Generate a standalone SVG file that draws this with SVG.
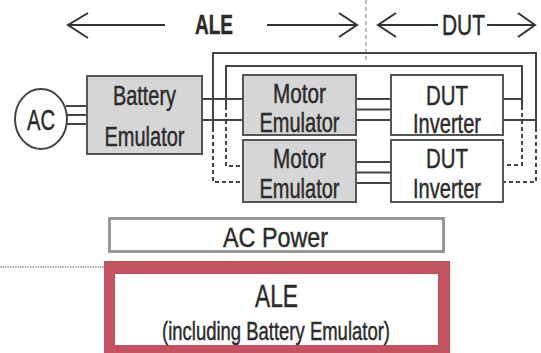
<svg xmlns="http://www.w3.org/2000/svg" width="541" height="353" viewBox="0 0 541 353">
<style>
  .t { font-family: "Liberation Sans", Arial, sans-serif; fill: #2b2b2b; stroke: #2b2b2b; stroke-width: 0.45; text-anchor: middle; }
  .box { fill: #d6d6d6; stroke: #555; stroke-width: 2; }
  .wbox { fill: #ffffff; stroke: #555; stroke-width: 2; }
  .ln { fill: none; stroke: #444; stroke-width: 2; }
  .dl { fill: none; stroke: #444; stroke-width: 2; stroke-dasharray: 4 3; }
  .ar { fill: none; stroke: #333; stroke-width: 2; }
</style>
<rect width="541" height="353" fill="#ffffff"/>

<g id="header">
  <line class="ar" x1="68" y1="25" x2="165" y2="25"/>
  <polyline class="ar" points="88,13 68,25 88,38"/>
  <text class="t" x="214" y="34" font-size="27" font-weight="bold" textLength="38" lengthAdjust="spacingAndGlyphs">ALE</text>
  <line class="ar" x1="267" y1="25" x2="357" y2="25"/>
  <polyline class="ar" points="339,13 357,25 339,37"/>
  <line x1="366" y1="0" x2="366" y2="63" stroke="#aaa" stroke-width="1.5" stroke-dasharray="4 3"/>
  <line class="ar" x1="378" y1="25" x2="438" y2="25"/>
  <polyline class="ar" points="396,13 378,25 396,37"/>
  <text class="t" x="463.5" y="35" font-size="29" textLength="43" lengthAdjust="spacingAndGlyphs">DUT</text>
  <line class="ar" x1="487" y1="25" x2="535" y2="25"/>
  <polyline class="ar" points="518,13 535,25 518,37"/>
</g>

<g id="connectors">
  <line class="ln" x1="66" y1="106" x2="87" y2="106"/>
  <line class="ln" x1="67" y1="115" x2="87" y2="115"/>
  <line class="ln" x1="66" y1="124" x2="87" y2="124"/>
  <line class="ln" x1="202" y1="99" x2="243" y2="99"/>
  <line class="ln" x1="202" y1="120" x2="243" y2="120"/>
  <line class="ln" x1="356" y1="99" x2="391" y2="99"/>
  <line class="ln" x1="356" y1="109.5" x2="391" y2="109.5"/>
  <line class="ln" x1="356" y1="120" x2="391" y2="120"/>
  <line class="ln" x1="356" y1="162" x2="391" y2="162"/>
  <line class="ln" x1="356" y1="172.5" x2="391" y2="172.5"/>
  <line class="ln" x1="356" y1="183" x2="391" y2="183"/>
  <line class="ln" x1="503" y1="99" x2="522" y2="99"/>
  <line class="ln" x1="503" y1="120" x2="536" y2="120"/>
  <polyline class="ln" points="213,128 213,53 536,53 536,128"/>
  <polyline class="ln" points="226,106 226,66 522,66 522,106"/>
  <polyline class="dl" points="213,128 213,182 243,182"/>
  <polyline class="dl" points="226,106 226,166 243,166"/>
  <polyline class="dl" points="522,106 522,165 503,165"/>
  <polyline class="dl" points="536,128 536,182 503,182"/>
</g>

<g id="ac">
  <ellipse cx="41" cy="119" rx="26" ry="30" fill="#fff" stroke="#444" stroke-width="2"/>
  <text class="t" x="41" y="130" font-size="29" textLength="28" lengthAdjust="spacingAndGlyphs">AC</text>
</g>

<g id="battery">
  <rect class="box" x="87" y="76" width="115" height="78"/>
  <text class="t" x="144.5" y="105" font-size="27" textLength="63" lengthAdjust="spacingAndGlyphs">Battery</text>
  <text class="t" x="144.5" y="146" font-size="27" textLength="80" lengthAdjust="spacingAndGlyphs">Emulator</text>
</g>

<g id="motor1">
  <rect class="box" x="243" y="75" width="113" height="60"/>
  <text class="t" x="299.5" y="103" font-size="27" textLength="53" lengthAdjust="spacingAndGlyphs">Motor</text>
  <text class="t" x="299.5" y="132" font-size="27" textLength="80" lengthAdjust="spacingAndGlyphs">Emulator</text>
</g>

<g id="motor2">
  <rect class="box" x="243" y="140" width="113" height="62"/>
  <text class="t" x="299.5" y="168" font-size="27" textLength="53" lengthAdjust="spacingAndGlyphs">Motor</text>
  <text class="t" x="299.5" y="198" font-size="27" textLength="80" lengthAdjust="spacingAndGlyphs">Emulator</text>
</g>

<g id="dut1">
  <rect class="wbox" x="391" y="75" width="112" height="60"/>
  <text class="t" x="447" y="105" font-size="28" textLength="42" lengthAdjust="spacingAndGlyphs">DUT</text>
  <text class="t" x="447" y="133" font-size="27" textLength="68" lengthAdjust="spacingAndGlyphs">Inverter</text>
</g>

<g id="dut2">
  <rect class="wbox" x="391" y="140" width="112" height="62"/>
  <text class="t" x="447" y="168" font-size="28" textLength="42" lengthAdjust="spacingAndGlyphs">DUT</text>
  <text class="t" x="447" y="198" font-size="27" textLength="68" lengthAdjust="spacingAndGlyphs">Inverter</text>
</g>

<g id="acpower">
  <rect x="109.5" y="218.5" width="334" height="33" fill="#fff" stroke="#999" stroke-width="3"/>
  <text class="t" x="275.5" y="247" font-size="28" textLength="105" lengthAdjust="spacingAndGlyphs">AC Power</text>
</g>

<g id="ale">
  <line x1="0" y1="267" x2="104" y2="267" stroke="#999" stroke-width="1.5" stroke-dasharray="1.5 1"/>
  <rect x="104" y="261" width="346" height="92" fill="#c55260"/>
  <rect x="115" y="274" width="323" height="71" fill="#fff"/>
  <text class="t" x="276.5" y="306.5" font-size="31" textLength="43" lengthAdjust="spacingAndGlyphs">ALE</text>
  <text class="t" x="276" y="340" font-size="25" textLength="228" lengthAdjust="spacingAndGlyphs">(including Battery Emulator)</text>
</g>
</svg>
